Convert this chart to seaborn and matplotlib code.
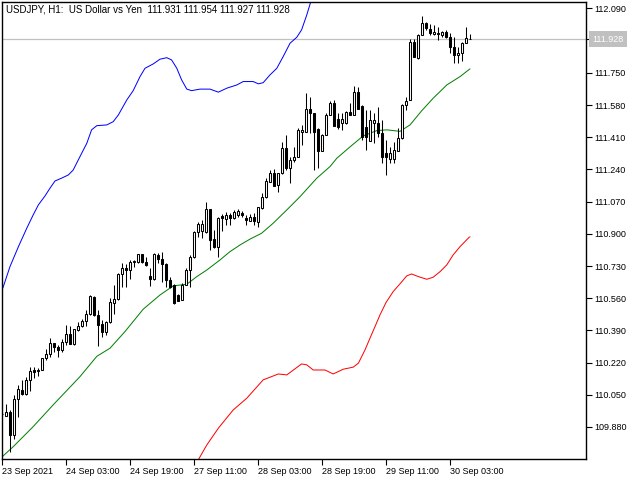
import numpy as np
import pandas as pd
import matplotlib
matplotlib.use('Agg')
import matplotlib.pyplot as plt
import seaborn as sns

# USDJPY H1 candles (bar 0 = 23 Sep 11:00)
opens = [109.949, 109.940, 109.961, 109.838, 110.027, 110.076, 110.055, 110.127, 110.181, 110.176,
         110.181, 110.243, 110.264, 110.322, 110.304, 110.287, 110.328, 110.370, 110.317, 110.393,
         110.415, 110.440, 110.476, 110.568, 110.472, 110.424, 110.384, 110.436, 110.537, 110.555,
         110.687, 110.718, 110.709, 110.750, 110.750, 110.792, 110.750, 110.678, 110.662, 110.787,
         110.766, 110.741, 110.657, 110.630, 110.577, 110.551, 110.630, 110.709, 110.776, 110.912,
         110.915, 110.912, 111.030, 110.871, 110.829, 110.995, 110.977, 111.000, 110.982, 111.000,
         111.012, 110.982, 110.970, 110.991, 110.964, 111.035, 111.093, 111.176, 111.223, 111.158,
         111.220, 111.352, 111.246, 111.290, 111.308, 111.440, 111.440, 111.558, 111.537, 111.452,
         111.339, 111.422, 111.528, 111.593, 111.505, 111.484, 111.484, 111.545, 111.528, 111.649,
         111.575, 111.466, 111.392, 111.487, 111.487, 111.434, 111.329, 111.294, 111.294, 111.339,
         111.405, 111.581, 111.607, 111.915, 111.827, 111.950, 112.015, 111.980, 111.955, 111.962,
         111.950, 111.968, 111.938, 111.885, 111.845, 111.854, 111.910, 111.931]
highs = [109.952, 110.002, 109.970, 110.049, 110.102, 110.129, 110.146, 110.199, 110.199, 110.190,
         110.246, 110.291, 110.349, 110.325, 110.313, 110.343, 110.419, 110.415, 110.400, 110.436,
         110.449, 110.498, 110.575, 110.572, 110.498, 110.445, 110.438, 110.560, 110.630, 110.695,
         110.748, 110.741, 110.762, 110.762, 110.795, 110.795, 110.776, 110.720, 110.801, 110.801,
         110.806, 110.745, 110.671, 110.634, 110.580, 110.639, 110.718, 110.789, 110.915, 110.964,
         110.973, 111.068, 111.033, 110.921, 110.988, 111.005, 111.017, 111.009, 111.026, 111.030,
         111.022, 111.000, 111.005, 111.009, 111.043, 111.114, 111.194, 111.237, 111.241, 111.222,
         111.387, 111.422, 111.308, 111.360, 111.458, 111.475, 111.642, 111.624, 111.540, 111.458,
         111.425, 111.537, 111.603, 111.607, 111.537, 111.537, 111.549, 111.590, 111.678, 111.676,
         111.578, 111.554, 111.554, 111.537, 111.572, 111.501, 111.396, 111.357, 111.387, 111.458,
         111.586, 111.621, 111.928, 111.928, 111.955, 112.051, 112.020, 112.008, 112.003, 111.994,
         111.973, 111.977, 111.962, 111.938, 111.885, 111.915, 111.994, 111.954]
lows = [109.946, 109.939, 109.747, 109.815, 109.932, 110.049, 110.049, 110.071, 110.138, 110.151,
        110.179, 110.234, 110.252, 110.278, 110.252, 110.278, 110.313, 110.317, 110.315, 110.387,
        110.410, 110.414, 110.473, 110.467, 110.310, 110.357, 110.366, 110.431, 110.477, 110.553,
        110.621, 110.621, 110.662, 110.727, 110.748, 110.748, 110.731, 110.625, 110.657, 110.745,
        110.648, 110.618, 110.613, 110.532, 110.545, 110.549, 110.628, 110.618, 110.774, 110.885,
        110.878, 110.903, 110.815, 110.826, 110.780, 110.917, 110.947, 110.947, 110.980, 110.991,
        110.991, 110.947, 110.968, 110.947, 110.935, 111.033, 111.091, 111.174, 111.151, 111.123,
        111.218, 111.237, 111.167, 111.281, 111.306, 111.369, 111.438, 111.431, 111.237, 111.246,
        111.337, 111.420, 111.526, 111.468, 111.452, 111.449, 111.482, 111.526, 111.526, 111.557,
        111.396, 111.343, 111.390, 111.378, 111.413, 111.273, 111.211, 111.273, 111.276, 111.337,
        111.403, 111.554, 111.605, 111.834, 111.822, 111.948, 111.977, 111.950, 111.950, 111.924,
        111.941, 111.933, 111.857, 111.804, 111.804, 111.815, 111.906, 111.927]
closes = [109.949, 109.958, 109.838, 110.028, 110.080, 110.055, 110.129, 110.176, 110.172, 110.181,
          110.243, 110.264, 110.322, 110.301, 110.287, 110.328, 110.370, 110.317, 110.398, 110.415,
          110.440, 110.476, 110.572, 110.472, 110.419, 110.384, 110.436, 110.542, 110.555, 110.687,
          110.718, 110.709, 110.753, 110.757, 110.792, 110.750, 110.736, 110.662, 110.794, 110.766,
          110.741, 110.657, 110.621, 110.534, 110.547, 110.630, 110.709, 110.776, 110.912, 110.951,
          110.952, 111.030, 110.868, 110.829, 110.982, 110.982, 111.000, 110.982, 111.014, 111.022,
          111.000, 110.973, 110.991, 110.970, 111.040, 111.093, 111.181, 111.223, 111.153, 111.220,
          111.352, 111.246, 111.290, 111.308, 111.449, 111.449, 111.558, 111.537, 111.440, 111.339,
          111.422, 111.528, 111.593, 111.470, 111.466, 111.505, 111.545, 111.528, 111.649, 111.559,
          111.413, 111.413, 111.501, 111.501, 111.434, 111.304, 111.304, 111.329, 111.343, 111.405,
          111.581, 111.603, 111.915, 111.836, 111.950, 112.015, 111.986, 111.959, 111.968, 111.955,
          111.968, 111.938, 111.885, 111.845, 111.857, 111.910, 111.933, 111.928]

# indicator lines, sampled along the chart (bar index, price)
upper_x = [0.2, 2, 4.1, 6.2, 7.8, 9.1, 10.75, 12, 13.25, 14.9, 16.6, 17.8, 19.5, 21.2, 22.4, 23.7,
           26.2, 27.8, 29.1, 31.2, 32.8, 34.5, 35.75, 37.8, 39.5, 41.2, 42.4, 43.7, 44.9, 46.2,
           47.4, 49.5, 52, 54.1, 56.2, 58.7, 60.3, 62.8, 64.1, 65.3, 67, 68.7, 70.3, 72, 73.7,
           74.9, 76.2, 77.2, 78]
upper_y = [110.613, 110.727, 110.832, 110.930, 111.000, 111.053, 111.100, 111.141, 111.179, 111.194,
           111.211, 111.237, 111.308, 111.378, 111.449, 111.471, 111.475, 111.492, 111.528, 111.607,
           111.656, 111.730, 111.774, 111.797, 111.822, 111.830, 111.818, 111.774, 111.713, 111.664,
           111.656, 111.664, 111.664, 111.648, 111.669, 111.686, 111.704, 111.704, 111.692, 111.698,
           111.739, 111.774, 111.836, 111.906, 111.938, 111.977, 112.056, 112.126, 112.190]
mid_x = [0, 2.8, 7.8, 12.8, 19.5, 23.7, 27, 30.75, 35.3, 39.5, 42.8, 46.2, 48.7, 51.2, 54.5, 57,
         59.5, 62, 64.9, 67.8, 71.2, 74.5, 78.7, 82, 83.7, 87, 90.3, 93.7, 96.2, 99.5, 102, 104.9,
         107.8, 111.2, 114.5, 117]
mid_y = [109.722, 109.776, 109.882, 109.997, 110.146, 110.253, 110.296, 110.384, 110.502, 110.577,
         110.625, 110.634, 110.674, 110.709, 110.762, 110.806, 110.841, 110.872, 110.903, 110.956,
         111.026, 111.096, 111.194, 111.255, 111.299, 111.359, 111.417, 111.445, 111.449, 111.441,
         111.475, 111.549, 111.616, 111.686, 111.730, 111.771]
lower_x = [48.5, 49.3, 51.2, 54.1, 57.8, 61.2, 65.3, 69.1, 71.2, 74.9, 76.2, 77.8, 80.75, 82.8, 85.3,
           87.8, 89.1, 90.75, 92, 93.25, 94.5, 96, 97.8, 99.5, 101.2, 102.4, 104.1, 106.2, 107.8,
           109.5, 111.2, 112.8, 114.5, 116.8, 117]
lower_y = [109.680, 109.715, 109.785, 109.874, 109.970, 110.032, 110.129, 110.160, 110.155, 110.213,
           110.208, 110.181, 110.181, 110.160, 110.185, 110.196, 110.217, 110.287, 110.349, 110.410,
           110.472, 110.537, 110.595, 110.636, 110.678, 110.688, 110.674, 110.660, 110.671, 110.700,
           110.736, 110.789, 110.832, 110.882, 110.884]

xtick_bars = [0, 16, 32, 48, 64, 80, 96, 112]
xtick_labels = ['23 Sep 2021', '24 Sep 03:00', '24 Sep 19:00', '27 Sep 11:00',
                '28 Sep 03:00', '28 Sep 19:00', '29 Sep 11:00', '30 Sep 03:00']
ytick_vals = [109.880, 110.050, 110.220, 110.390, 110.560, 110.730, 110.900,
              111.070, 111.240, 111.410, 111.580, 111.750, 112.090]

sns.set_style('white')
plt.rcParams['font.family'] = ['Liberation Sans', 'DejaVu Sans']

df = pd.DataFrame({'o': opens, 'h': highs, 'l': lows, 'c': closes})
df['bar'] = np.arange(len(df))
df['lo'] = df[['o', 'c']].min(axis=1)
df['size'] = (df['c'] - df['o']).abs().clip(lower=0.0008)
up = df['c'] >= df['o']

fig = plt.figure(figsize=(6.4, 4.8), dpi=100)
ax = fig.add_axes([2 / 640, 1 - 459 / 480, 584 / 640, 457 / 480])

last = closes[-1]
ax.axhline(last, color='#c0c0c0', lw=0.9, zorder=0)

sns.lineplot(x=upper_x, y=upper_y, color='#0000ff', lw=0.72, ax=ax, zorder=1)
sns.lineplot(x=mid_x, y=mid_y, color='#008000', lw=0.72, ax=ax, zorder=1)
sns.lineplot(x=lower_x, y=lower_y, color='#ff0000', lw=0.72, ax=ax, zorder=1)

# candles: wicks first, then bodies on top
ax.vlines(df['bar'], df['l'], df['h'], color='black', lw=0.75, zorder=2)
ax.bar(df['bar'][up], df['size'][up], bottom=df['lo'][up], width=0.6,
       facecolor='white', edgecolor='black', lw=0.75, zorder=3)
ax.bar(df['bar'][~up], df['size'][~up], bottom=df['lo'][~up], width=0.6,
       facecolor='black', edgecolor='black', lw=0.75, zorder=3)

ax.set_xlim(0, 146)
ax.set_ylim(109.711, 112.124)
ax.set_xlabel('')
ax.set_ylabel('')

ax.yaxis.tick_right()
ax.set_yticks(ytick_vals + [last])
ax.set_yticklabels(['%.3f' % v for v in ytick_vals] + [''])
ax.tick_params(axis='y', direction='out', length=4, width=0.8, pad=2,
               labelsize=6.5, colors='black', right=True, left=False)

ax.set_xticks(xtick_bars)
ax.set_xticklabels(xtick_labels, ha='left')
ax.tick_params(axis='x', direction='out', length=4, width=0.8, pad=1.5,
               labelsize=6.5, colors='black', bottom=True)

for s in ax.spines.values():
    s.set_color('black')
    s.set_linewidth(1)

# current price tag on the right axis
ax.annotate('%.3f' % last, xy=(1, last), xycoords=('axes fraction', 'data'),
            xytext=(4.5, 0), textcoords='offset points', ha='left', va='center',
            fontsize=6.5, color='white', annotation_clip=False,
            bbox=dict(boxstyle='square,pad=0.35', facecolor='#c0c0c0', edgecolor='none'))

header = 'USDJPY, H1:  US Dollar vs Yen  %.3f %.3f %.3f %.3f' % (opens[-1], highs[-1], lows[-1], closes[-1])
fig.text(6 / 640, 1 - 10 / 480, header, fontsize=7, ha='left', va='center', color='black')

fig.savefig('out.png', dpi=100)
